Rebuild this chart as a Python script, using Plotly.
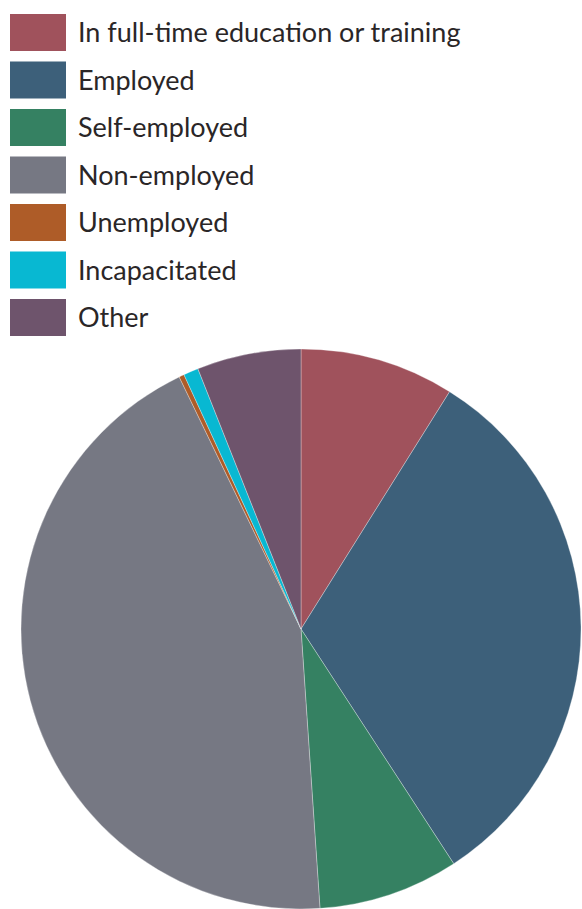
import plotly.graph_objects as go

labels = ["In full-time education or training", "Employed", "Self-employed",
          "Non-employed", "Unemployed", "Incapacitated", "Other"]
values = [8.9, 31.9, 8.1, 43.9, 0.3, 0.86, 6.0]
colors = ["#A0525C", "#3D607A", "#358162", "#767883", "#AE5C28", "#08B8D2", "#6E546C"]

W, H = 582, 909

def px_x(x):
    return x / W

def px_y(y):
    return 1 - y / H

fig = go.Figure()
fig.add_trace(go.Pie(
    labels=labels, values=values, sort=False, direction="clockwise", rotation=0,
    marker=dict(colors=colors, line=dict(color="rgba(255,255,255,0.5)", width=0.6)),
    textinfo="none", hoverinfo="label+percent", showlegend=False,
    domain=dict(x=[px_x(20), 1], y=[0, px_y(349)]),
))

shapes = []
annotations = []
for i, (lab, col) in enumerate(zip(labels, colors)):
    cy = 32.5 + 47.5 * i
    shapes.append(dict(type="rect", xref="paper", yref="paper",
                       x0=px_x(10), x1=px_x(66), y0=px_y(cy - 18.5), y1=px_y(cy + 18.5),
                       fillcolor=col, line=dict(width=0), layer="above"))
    annotations.append(dict(text=lab, xref="paper", yref="paper", x=px_x(76), y=px_y(cy - 1),
                            xanchor="left", yanchor="middle", showarrow=False,
                            font=dict(family="Lato", size=27, color="#2A2627")))

fig.update_layout(width=W, height=H, margin=dict(l=0, r=0, t=0, b=0),
                  paper_bgcolor="white", plot_bgcolor="white",
                  shapes=shapes, annotations=annotations)
fig.write_html("out.html", config={"displayModeBar": False},
               post_script="document.body.style.margin='0';document.body.style.overflow='hidden';")
